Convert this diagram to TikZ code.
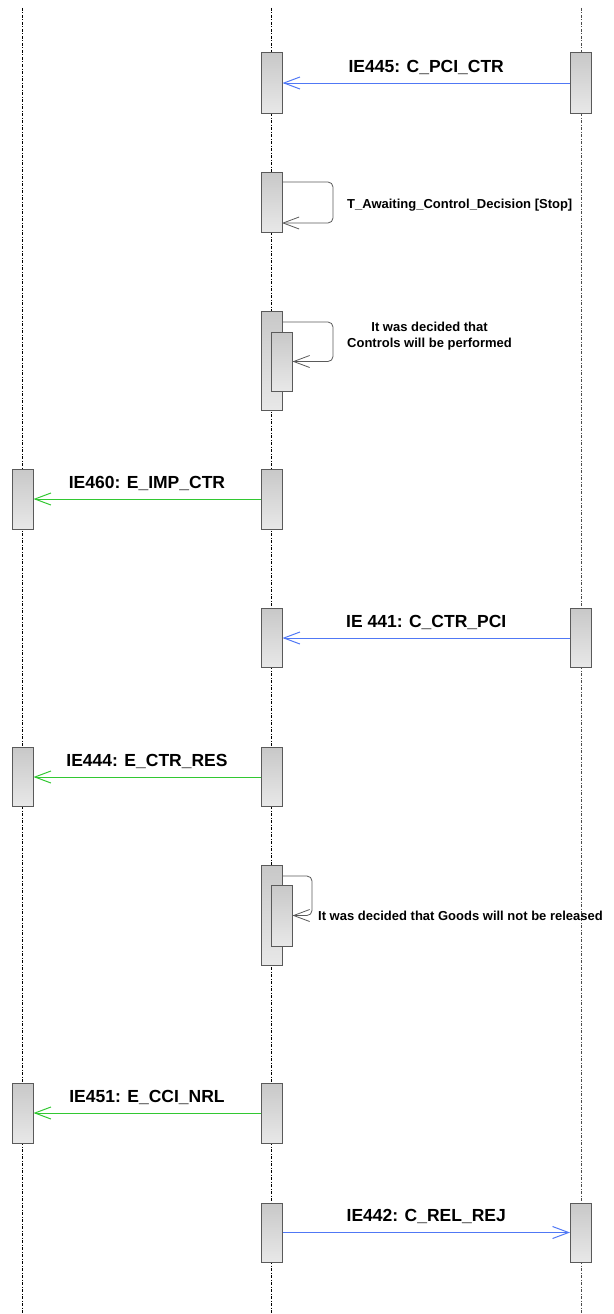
\documentclass[tikz,border=0pt]{standalone}
\usepackage{fontspec}
\setmainfont{Liberation Sans}
\usetikzlibrary{arrows.meta}
\definecolor{msgblue}{RGB}{80,120,245}
\definecolor{msggreen}{RGB}{50,200,50}
\definecolor{boxline}{RGB}{90,90,90}
\definecolor{boxtop}{RGB}{200,200,200}
\definecolor{boxbot}{RGB}{232,232,232}
\tikzset{
  x=1pt, y=-1pt,
  lifeline/.style={line width=0.8pt, dash pattern=on 3pt off 1.5pt on 1pt off 1.5pt},
  act/.style={rectangle, draw=boxline, line width=1pt, top color=boxtop, bottom color=boxbot,
    minimum width=21pt, inner sep=0pt},
  tipV/.style={-{Straight Barb[length=16pt,width=12pt]}},
  bluemsg/.style={draw=msgblue, line width=1pt, tipV},
  greenmsg/.style={draw=msggreen, line width=1pt, tipV},
  selfmsg/.style={draw=boxline, line width=0.8pt, rounded corners=5pt, tipV},
  msglabel/.style={font=\bfseries\fontsize{17.5}{20}\selectfont, inner sep=0pt, anchor=base},
  notelabel/.style={font=\bfseries\fontsize{13}{16.5}\selectfont, inner sep=0pt, align=center}
}
\begin{document}
\begin{tikzpicture}
\useasboundingbox (0,0) rectangle (613,1314);
% lifelines
\coordinate (Ltop) at (22.5,8);  \coordinate (Lbot) at (22.5,1314);
\coordinate (Mtop) at (271.5,8); \coordinate (Mbot) at (271.5,1314);
\coordinate (Rtop) at (581,8);   \coordinate (Rbot) at (581,1314);
\draw[lifeline] (Ltop) -- (Lbot);
\draw[lifeline] (Mtop) -- (Mbot);
\draw[lifeline, draw=black!70] (Rtop) -- (Rbot);

% 1 IE445
\node[act, minimum height=60pt] (m1) at (271.5,83) {};
\node[act, minimum height=60pt] (r1) at (581,83) {};
\draw[bluemsg] (r1.west) -- node[msglabel, midway, yshift=11pt] {IE445: C\_PCI\_CTR} (m1.east);

% 2 self message
\node[act, minimum height=60pt] (m2) at (271.5,202) {};
\coordinate (s2a) at (282,182);
\coordinate (s2b) at (282,223);
\draw[selfmsg] (s2a) -- (333,182) -- (333,223) -- (s2b);
\node[notelabel, anchor=west] (t2) at (347,205) {T\_Awaiting\_Control\_Decision [Stop]};

% 3 self message with nested activation
\node[act, minimum height=99pt] (m3) at (271.5,360.5) {};
\node[act, minimum height=59pt] (i3) at (281.5,361.5) {};
\coordinate (s3a) at (282,322);
\draw[selfmsg] (s3a) -- (333,322) -- (333,361.5) -- (i3.east);
\node[notelabel, anchor=west] (t3) at (347,336) {It was decided that\\Controls will be performed};

% 4 IE460
\node[act, minimum height=60pt] (l4) at (22.5,499) {};
\node[act, minimum height=60pt] (m4) at (271.5,499) {};
\draw[greenmsg] (m4.west) -- node[msglabel, midway, yshift=11pt] {IE460: E\_IMP\_CTR} (l4.east);

% 5 IE 441
\node[act, minimum height=59pt] (m5) at (271.5,638) {};
\node[act, minimum height=59pt] (r5) at (581,638) {};
\draw[bluemsg] (r5.west) -- node[msglabel, midway, yshift=11pt] {IE 441: C\_CTR\_PCI} (m5.east);

% 6 IE444
\node[act, minimum height=59pt] (l6) at (22.5,777) {};
\node[act, minimum height=59pt] (m6) at (271.5,777) {};
\draw[greenmsg] (m6.west) -- node[msglabel, midway, yshift=11pt] {IE444: E\_CTR\_RES} (l6.east);

% 7 self message with nested activation
\node[act, minimum height=100pt] (m7) at (271.5,915) {};
\node[act, minimum height=61pt] (i7) at (281.5,915.5) {};
\coordinate (s7a) at (282,876);
\draw[selfmsg] (s7a) -- (312,876) -- (312,915.5) -- (i7.east);
\node[notelabel, anchor=west] (t7) at (318,916) {It was decided that Goods will not be released};

% 8 IE451
\node[act, minimum height=60pt] (l8) at (22.5,1113) {};
\node[act, minimum height=60pt] (m8) at (271.5,1113) {};
\draw[greenmsg] (m8.west) -- node[msglabel, midway, yshift=11pt] {IE451: E\_CCI\_NRL} (l8.east);

% 9 IE442
\node[act, minimum height=59pt] (m9) at (271.5,1232.5) {};
\node[act, minimum height=59pt] (r9) at (581,1232.5) {};
\draw[bluemsg] (m9.east) -- node[msglabel, midway, yshift=11pt] {IE442: C\_REL\_REJ} (r9.west);
\end{tikzpicture}
\end{document}
